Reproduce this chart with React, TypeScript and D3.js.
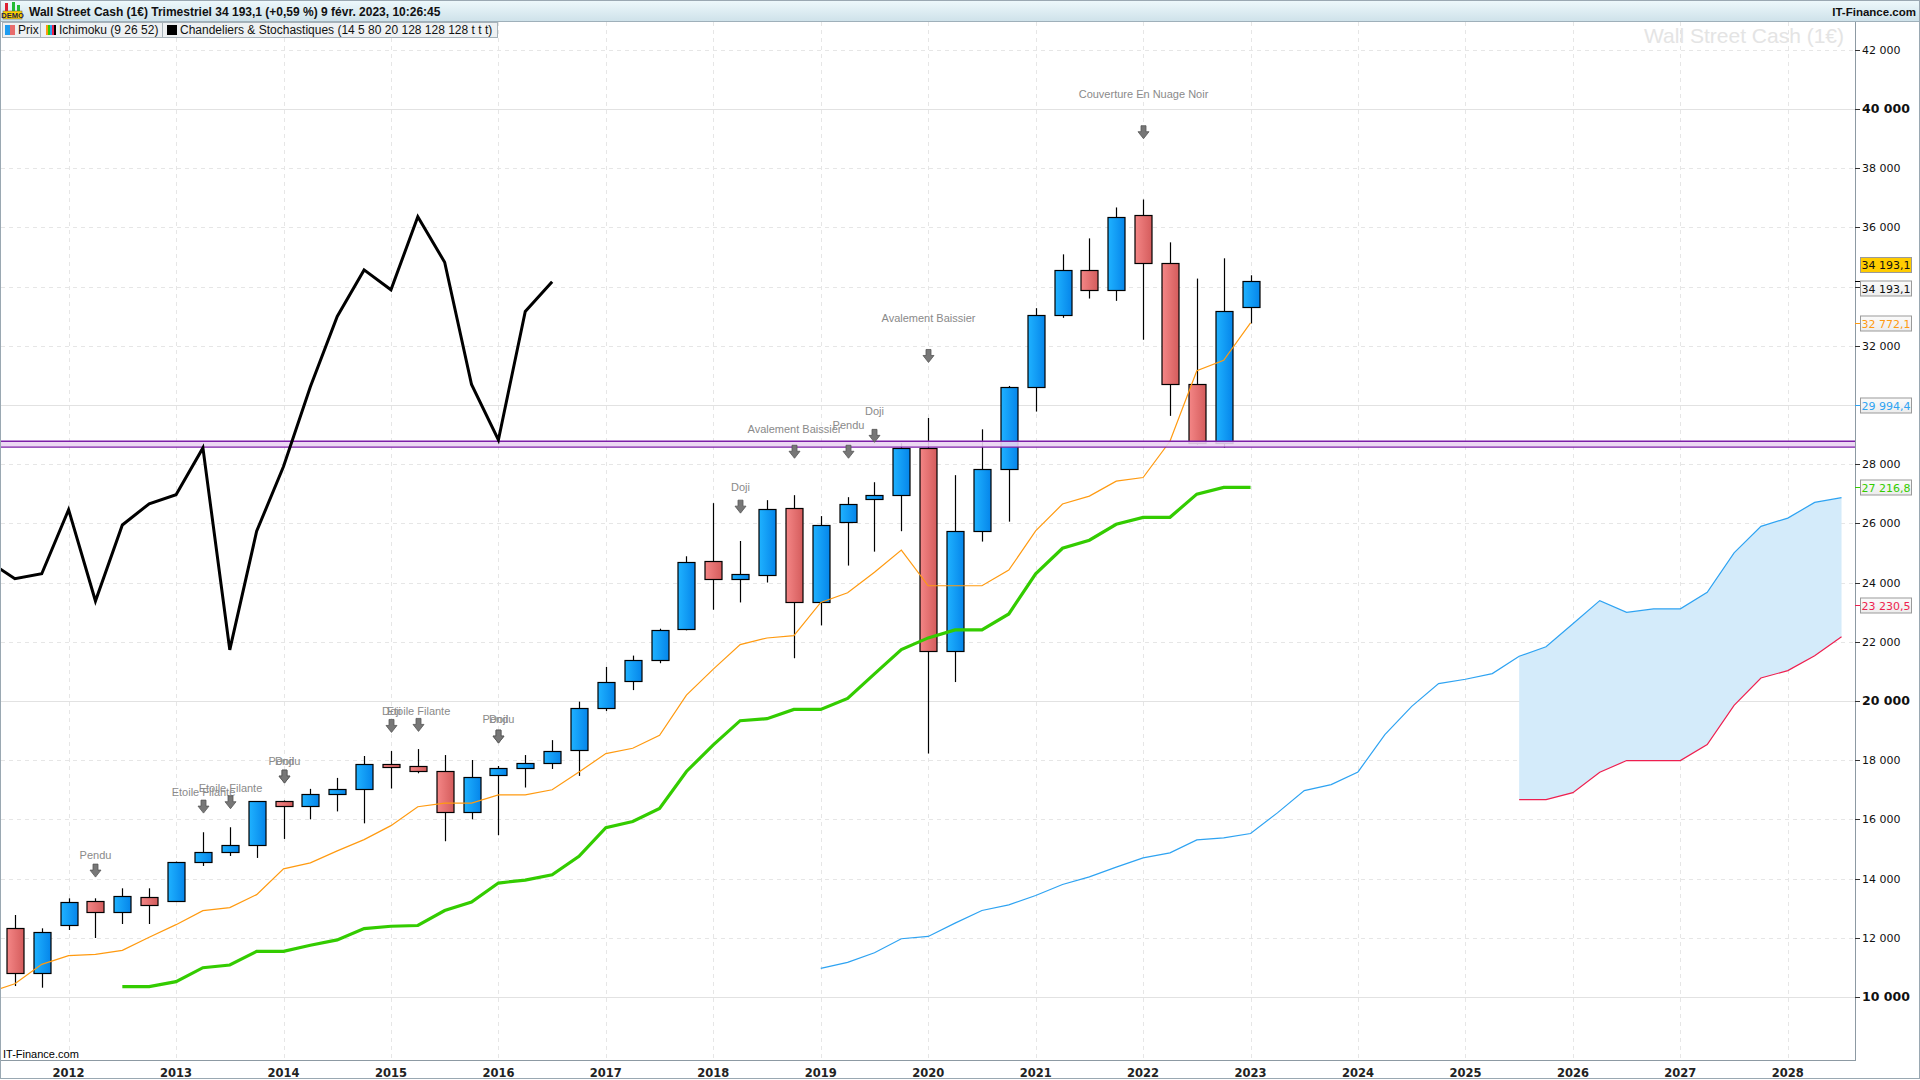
import * as d3 from "d3";

// quarters ("T" = trimestre), from 2011 T2 to 2028 T3
const quarters = [
  "2011-T2", "2011-T3", "2011-T4",
  "2012-T1", "2012-T2", "2012-T3", "2012-T4",
  "2013-T1", "2013-T2", "2013-T3", "2013-T4",
  "2014-T1", "2014-T2", "2014-T3", "2014-T4",
  "2015-T1", "2015-T2", "2015-T3", "2015-T4",
  "2016-T1", "2016-T2", "2016-T3", "2016-T4",
  "2017-T1", "2017-T2", "2017-T3", "2017-T4",
  "2018-T1", "2018-T2", "2018-T3", "2018-T4",
  "2019-T1", "2019-T2", "2019-T3", "2019-T4",
  "2020-T1", "2020-T2", "2020-T3", "2020-T4",
  "2021-T1", "2021-T2", "2021-T3", "2021-T4",
  "2022-T1", "2022-T2", "2022-T3", "2022-T4",
  "2023-T1", "2023-T2", "2023-T3", "2023-T4",
  "2024-T1", "2024-T2", "2024-T3", "2024-T4",
  "2025-T1", "2025-T2", "2025-T3", "2025-T4",
  "2026-T1", "2026-T2", "2026-T3", "2026-T4",
  "2027-T1", "2027-T2", "2027-T3", "2027-T4",
  "2028-T1", "2028-T2", "2028-T3",
];

// candles 2011 T3 -> 2023 T1
const candleStart = "2011-T3";
const opens = [12343, 10821, 12440, 13255, 12883, 13390, 13244, 14574, 14912, 15149, 16614, 16467, 16853, 17021, 17861, 17794, 17626, 16248, 17491, 17726, 17894, 18331, 19773, 20682, 21389, 22432, 24721, 24115, 24250, 26505, 23341, 26034, 26808, 26960, 28560, 21706, 25734, 27854, 30598, 33024, 34574, 33900, 36427, 34810, 30700, 28725, 33327];
const highs = [12771, 12320, 13334, 13334, 13672, 13672, 14574, 15566, 15735, 16614, 16640, 17032, 17402, 18141, 18309, 18376, 18174, 18006, 17805, 18174, 18678, 19978, 21153, 21534, 22443, 24889, 26684, 25405, 26785, 26954, 26247, 26886, 27391, 28712, 29565, 27630, 29178, 30643, 33271, 35090, 35629, 36674, 36943, 35495, 34271, 34956, 34383];
const lows = [10370, 10314, 12264, 11993, 12466, 12466, 13210, 14427, 14765, 14698, 15340, 16002, 16270, 15867, 17043, 17558, 15262, 16002, 15464, 17077, 17704, 17469, 19661, 20368, 21276, 22387, 23083, 23330, 24003, 21445, 22555, 24575, 25046, 25736, 18227, 20640, 25386, 26059, 29778, 32945, 33597, 33518, 32204, 29633, 28660, 28561, 32755];
const closes = [10821, 12207, 13222, 12883, 13424, 13120, 14574, 14912, 15149, 16614, 16467, 16853, 17021, 17861, 17794, 17626, 16248, 17424, 17726, 17894, 18298, 19776, 20648, 21389, 22398, 24687, 24115, 24283, 26471, 23341, 25933, 26640, 26954, 28560, 21706, 25734, 27854, 30598, 33024, 34574, 33900, 36359, 34810, 30700, 28725, 33159, 34193.1];

// Ichimoku
const tenkanStart = "2011-T2";
const tenkan = [10145, 10449, 11103, 11396, 11441, 11576, 12016, 12444, 12917, 13019, 13458, 14330, 14530, 14938, 15318, 15789, 16427, 16550, 16550, 16830, 16830, 17000, 17600, 18225, 18404, 18842, 20199, 21075, 21905, 22129, 22208, 23330, 23655, 24351, 25100, 23894, 23894, 23894, 24421, 25745, 26654, 26923, 27428, 27551, 28775, 31160, 31508, 32772.1];
const kijunStart = "2012-T3";
const kijun = [10350, 10350, 10520, 10990, 11080, 11540, 11540, 11750, 11930, 12310, 12390, 12415, 12920, 13210, 13850, 13950, 14130, 14750, 15720, 15930, 16370, 17620, 18516, 19335, 19403, 19717, 19717, 20087, 20917, 21739, 22132, 22401, 22401, 22940, 24297, 25161, 25431, 25969, 26205, 26205, 26990, 27216.8, 27216.8];
const spanAStart = "2019-T1";
const spanA = [10966, 11169, 11495, 11968, 12046, 12496, 12924, 13115, 13430, 13801, 14060, 14386, 14701, 14870, 15309, 15376, 15523, 16220, 16974, 17176, 17604, 18864, 19820, 20587, 20734, 20925, 21511, 21834, 22612, 23390, 22994, 23112, 23112, 23670, 25005, 25901, 26180, 26708, 26870];
const spanBStart = "2025-T3";
const spanB = [16667, 16667, 16902, 17592, 17988, 17988, 17988, 18531, 19853, 20777, 21027, 21526, 22172];

// Stochastique line drawn on the price scale
const stochStart = "2011-T2";
const stoch = [24735, 24129, 24298, 26463, 23378, 25947, 26665, 26968, 28550, 21728, 25734, 27922, 30614, 32993, 34564, 33891, 36359, 34822, 30693, 28819, 33161, 34160];

// horizontal support band
const bandLevels = [28775, 28580];

// candle pattern annotations
const annoQuarter = ["2012-T2", "2013-T2", "2013-T3", "2014-T1", "2014-T1", "2015-T1", "2015-T2", "2016-T1", "2016-T1", "2018-T2", "2018-T4", "2019-T2", "2019-T3", "2020-T1", "2022-T1"];
const annoText = ["Pendu", "Etoile Filante", "Etoile Filante", "Pendu", "Doji", "Doji", "Etoile Filante", "Pendu", "Doji", "Doji", "Avalement Baissier", "Pendu", "Doji", "Avalement Baissier", "Couverture En Nuage Noir"];
const annoArrowLevel = [14270, 16432, 16580, 17446, 17446, 19158, 19192, 18797, 18797, 26566, 28420, 28420, 28957, 31656, 39216];
const annoTextLevel = [14790, 16918, 17053, 17970, 17970, 19675, 19675, 19384, 19384, 27221, 29204, 29329, 29785, 32940, 40497];

// right-hand value labels
const lastPrice = 34193.1;
const valueLabels = [32772.1, 29994.4, 27216.8, 23230.5];
const valueLabelNames = ["tenkan", "spanA", "kijun", "spanB"];

const years = d3.range(2012, 2029);
const yTicks = d3.range(10000, 42001, 2000);

const W = 1920;
const H = 1080;
const P = { left: 0, right: 1855, top: 22, bottom: 1060 };

const qx = (q: string) => {
  const [yr, t] = q.split("-T");
  return +yr + (+t - 1) / 4;
};
const seq = (start: string, values: number[]) => {
  const i0 = quarters.indexOf(start);
  return values.map((v, i) => ({ q: quarters[i0 + i], v }));
};

const fmtInt = (v: number) => d3.format(",")(v).replace(/,/g, " ");
const fmtDec = (v: number) => d3.format(",.1f")(v).replace(/,/g, " ").replace(".", ",");

const colors: Record<string, string> = {
  tenkan: "#ff9a10",
  kijun: "#33cc00",
  spanA: "#2ea3f2",
  spanB: "#ee1f4f",
};

export default function App() {
  const x = d3.scaleLinear().domain([2012, 2028]).range([68.6, 1787.8]);
  const y = d3.scaleLinear().domain([10000, 40000]).range([997, 109]);
  const X = (q: string) => Math.round(x(qx(q))) + 0.5;

  const line = d3
    .line<{ q: string; v: number }>()
    .x((d) => x(qx(d.q)))
    .y((d) => y(d.v));

  const aSeq = seq(spanAStart, spanA);
  const bSeq = seq(spanBStart, spanB);
  const cloud = bSeq.map((d) => ({ q: d.q, b: d.v, a: aSeq.find((a) => a.q === d.q)!.v }));
  const area = d3
    .area<{ q: string; a: number; b: number }>()
    .x((d) => x(qx(d.q)))
    .y0((d) => y(d.b))
    .y1((d) => y(d.a));

  const candles = opens.map((o, i) => ({
    q: quarters[quarters.indexOf(candleStart) + i],
    o,
    h: highs[i],
    l: lows[i],
    c: closes[i],
  }));

  const font = "'Liberation Sans', Arial, sans-serif";
  const axisFont = "'DejaVu Sans', Verdana, sans-serif";

  const arrowPath = "M-2.5,-6.5 L2.5,-6.5 L2.5,-0.5 L5.5,-0.5 L0,6.5 L-5.5,-0.5 L-2.5,-0.5 Z";

  // centres of the value boxes on the right axis
  const boxCentres = [
    ...valueLabels.map((v) => Math.round(y(v)) + 0.5),
    Math.round(y(lastPrice)) + 7.5,
    Math.round(y(lastPrice)) - 16,
  ];
  const hiddenTick = (v: number) => boxCentres.some((c) => Math.abs(c - y(v)) < 12);

  const labelBox = (value: number, cy: number, fill: string, color: string, tick: string, key: string) => {
    const ty = Math.round(y(value)) + 0.5;
    return (
      <g key={key}>
        <line x1={P.right} x2={1861} y1={ty} y2={ty} stroke={tick} />
        <rect x={1860.5} y={cy - 7.5} width={51} height={15} fill={fill} stroke="#9a9a9a" />
        <text x={1886} y={cy + 4} textAnchor="middle" fontFamily={axisFont} fontSize={11} fill={color}>
          {fmtDec(value)}
        </text>
      </g>
    );
  };

  return (
    <svg width={W} height={H} style={{ position: "absolute", left: 0, top: 0, background: "#fff" }} fontFamily={font}>
      <defs>
        <linearGradient id="gBlue" x1="0" x2="1" y1="0" y2="0">
          <stop offset="0" stopColor="#1fb2ff" />
          <stop offset="1" stopColor="#0585ea" />
        </linearGradient>
        <linearGradient id="gRed" x1="0" x2="1" y1="0" y2="0">
          <stop offset="0" stopColor="#f48686" />
          <stop offset="1" stopColor="#d45c5c" />
        </linearGradient>
        <linearGradient id="gHead" x1="0" x2="0" y1="0" y2="1">
          <stop offset="0" stopColor="#eef9fc" />
          <stop offset="1" stopColor="#cde1e9" />
        </linearGradient>
        <linearGradient id="gLab" x1="0" x2="0" y1="0" y2="1">
          <stop offset="0" stopColor="#fbfbfb" />
          <stop offset="1" stopColor="#ececec" />
        </linearGradient>
        <clipPath id="plotClip">
          <rect x={1} y={P.top} width={P.right - 1} height={P.bottom - P.top} />
        </clipPath>
      </defs>

      {/* grid */}
      <g>
        {years.map((yr) => (
          <line key={yr} x1={Math.round(x(yr)) + 0.5} x2={Math.round(x(yr)) + 0.5} y1={P.top} y2={P.bottom} stroke="#e6e6e6" strokeDasharray="4,4" />
        ))}
        {yTicks.map((v) => (
          <line
            key={v}
            x1={1}
            x2={P.right}
            y1={Math.round(y(v)) + 0.5}
            y2={Math.round(y(v)) + 0.5}
            stroke={v % 10000 === 0 ? "#e2e2e2" : "#e6e6e6"}
            strokeDasharray={v % 10000 === 0 ? undefined : "4,4"}
          />
        ))}
      </g>

      {/* watermark */}
      <text x={1844} y={43} textAnchor="end" fontSize={21} fill="#e4e4e4">
        Wall Street Cash (1€)
      </text>

      <g clipPath="url(#plotClip)">
        {/* kumo */}
        <path d={area(cloud)!} fill="#d4ebfa" />

        {/* candles */}
        {candles.map((d) => {
          const cx = X(d.q);
          const top = Math.round(y(Math.max(d.o, d.c)));
          const bot = Math.round(y(Math.min(d.o, d.c)));
          return (
            <g key={d.q}>
              <line x1={cx} x2={cx} y1={y(d.h)} y2={y(d.l)} stroke="#000" strokeWidth={1.2} />
              <rect
                x={cx - 8.5}
                y={top + 0.5}
                width={17}
                height={Math.max(bot - top, 3)}
                fill={d.c >= d.o ? "url(#gBlue)" : "url(#gRed)"}
                stroke="#000"
                strokeWidth={1.2}
              />
            </g>
          );
        })}

        {/* ichimoku lines */}
        <path d={line(aSeq)!} fill="none" stroke={colors.spanA} strokeWidth={1.2} />
        <path d={line(bSeq)!} fill="none" stroke={colors.spanB} strokeWidth={1.2} />
        <path d={line(seq(tenkanStart, tenkan))!} fill="none" stroke={colors.tenkan} strokeWidth={1.2} />
        <path d={line(seq(kijunStart, kijun))!} fill="none" stroke={colors.kijun} strokeWidth={3.2} />

        {/* support band */}
        <rect x={1} y={y(bandLevels[0])} width={P.right} height={y(bandLevels[1]) - y(bandLevels[0])} fill="#ead4f2" opacity={0.9} />
        {bandLevels.map((v) => (
          <line key={v} x1={1} x2={P.right} y1={y(v)} y2={y(v)} stroke="#7d1fa8" strokeWidth={1.3} />
        ))}

        {/* stochastic */}
        <path d={line(seq(stochStart, stoch))!} fill="none" stroke="#000" strokeWidth={3} strokeLinejoin="miter" />

        {/* annotations */}
        {annoQuarter.map((q, i) => (
          <g key={i}>
            <text x={X(q)} y={y(annoTextLevel[i]) + 4} textAnchor="middle" fontSize={11} fill="#8a8a8a">
              {annoText[i]}
            </text>
            <path d={arrowPath} transform={`translate(${X(q)},${y(annoArrowLevel[i])})`} fill="#777" stroke="#555" strokeWidth={0.8} />
          </g>
        ))}
      </g>

      {/* right axis */}
      <line x1={P.right + 0.5} x2={P.right + 0.5} y1={P.top} y2={P.bottom} stroke="#8d9aa3" />
      {yTicks.map((v) => (
        <g key={v}>
          <line x1={P.right} x2={P.right + 5} y1={Math.round(y(v)) + 0.5} y2={Math.round(y(v)) + 0.5} stroke="#333" />
          {!hiddenTick(v) && (
            <text
              x={1862}
              y={y(v) + 4}
              fontFamily={axisFont}
              fontSize={v % 10000 === 0 ? 12.5 : 11}
              fontWeight={v % 10000 === 0 ? "bold" : "normal"}
              fill="#111"
            >
              {fmtInt(v)}
            </text>
          )}
        </g>
      ))}

      {/* value labels */}
      {valueLabels.map((v, i) =>
        labelBox(v, Math.round(y(v)) + 0.5, "url(#gLab)", colors[valueLabelNames[i]], colors[valueLabelNames[i]], valueLabelNames[i])
      )}
      {labelBox(lastPrice, Math.round(y(lastPrice)) + 7.5, "url(#gLab)", "#111", "#000", "last")}
      <rect x={1860.5} y={Math.round(y(lastPrice)) - 23.5} width={51} height={15} fill="#ffcc00" stroke="#9a9a9a" />
      <text x={1886} y={Math.round(y(lastPrice)) - 12} textAnchor="middle" fontFamily={axisFont} fontSize={11} fill="#111">
        {fmtDec(lastPrice)}
      </text>

      {/* bottom axis */}
      <line x1={0} x2={P.right + 1} y1={P.bottom + 0.5} y2={P.bottom + 0.5} stroke="#8d9aa3" />
      {years.map((yr) => (
        <text key={yr} x={x(yr)} y={1077} textAnchor="middle" fontFamily={axisFont} fontSize={11.5} fontWeight="bold" fill="#222">
          {yr}
        </text>
      ))}
      <text x={3} y={1058} fontSize={11} fill="#000">
        IT-Finance.com
      </text>

      {/* header */}
      <rect x={0} y={0} width={W} height={P.top} fill="url(#gHead)" />
      <line x1={0} x2={W} y1={P.top - 0.5} y2={P.top - 0.5} stroke="#9fb0ba" />
      <g>
        <rect x={5} y={3} width={3} height={8} fill="#d23" />
        <rect x={12} y={2} width={3} height={9} fill="#2b3" />
        <rect x={17} y={5} width={3} height={6} fill="#2b3" />
        <rect x={3} y={11} width={19} height={8} fill="#ffd200" stroke="#555" strokeWidth={0.5} />
        <text x={12.5} y={18} textAnchor="middle" fontSize={7.5} fontWeight="bold" fill="#224">
          DEMO
        </text>
      </g>
      <text x={29} y={15.5} fontSize={12} fontWeight="bold" fill="#111">
        Wall Street Cash (1€) Trimestriel 34 193,1 (+0,59 %) 9 févr. 2023, 10:26:45
      </text>
      <text x={1916} y={15.5} textAnchor="end" fontSize={11.5} fontWeight="bold" fill="#111">
        IT-Finance.com
      </text>

      {/* legend */}
      <g>
        <rect x={2.5} y={22.5} width={38} height={15} fill="#eef1f3" stroke="#a8b3ba" />
        <rect x={5} y={25} width={5} height={10} fill="#1e9cf0" />
        <rect x={10} y={25} width={5} height={10} fill="#e86c6c" />
        <text x={18} y={34} fontSize={12} fill="#111">Prix</text>

        <rect x={40.5} y={22.5} width={122} height={15} fill="#eef1f3" stroke="#a8b3ba" />
        {["#ff9a10", "#33cc00", "#2ea3f2", "#ee1f4f", "#000"].map((c, i) => (
          <rect key={c} x={46 + i * 2} y={25} width={2} height={10} fill={c} />
        ))}
        <text x={59} y={34} fontSize={12} fill="#111">Ichimoku (9 26 52)</text>

        <rect x={162.5} y={22.5} width={335} height={15} fill="#eef1f3" stroke="#a8b3ba" />
        <rect x={167} y={25} width={10} height={10} fill="#000" />
        <text x={180} y={34} fontSize={12} fill="#111">Chandeliers &amp; Stochastiques (14 5 80 20 128 128 128 t t t)</text>
      </g>

      {/* frame */}
      <rect x={0.5} y={0.5} width={W - 1} height={H - 2} fill="none" stroke="#9aa8b2" />
    </svg>
  );
}
